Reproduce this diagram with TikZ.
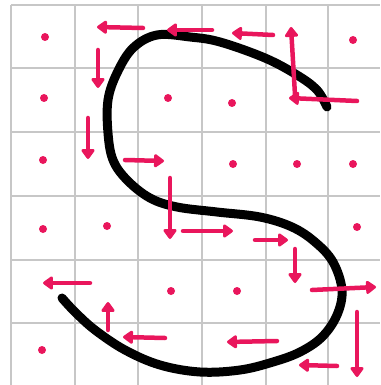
\documentclass[tikz,border=0pt]{standalone}
\usepackage{tikz}
\usetikzlibrary{arrows.meta}
\definecolor{penPink}{RGB}{233,22,92}
\tikzset{
	gridline/.style={draw=black!22, line width=1.3pt},
	griddot/.style={circle, fill=penPink, inner sep=0pt, minimum size=8pt},
	movearr/.style={-{Triangle[length=11pt, width=15pt, round]}, line width=4.5pt, draw=penPink, line cap=round},
	letterS/.style={draw=black, line width=9pt, line cap=round, line join=round}
}

\begin{document}
\begin{tikzpicture}[x=1pt, y=-1pt]
	\useasboundingbox (0,0) rectangle (380,385);
	\foreach \gx in {11,75,138,202,266,328}
		\draw[gridline] (\gx,5) -- (\gx,385);
	\foreach \gy in {5,68,132,196,260,323}
		\draw[gridline] (11,\gy) -- (380,\gy);
	\foreach \dx/\dy [count=\i] in {45/37, 353/40, 44/98, 168/98, 232/103, 43/160, 233/164, 297/164, 353/164, 43/229, 107/226, 357/227, 171/291, 237/291, 42/350}
		\node[griddot] (dot\i) at (\dx,\dy) {};
	\draw[letterS] plot[smooth, tension=0.6] coordinates {(327,107) (317,90) (297,75) (265,58) (220,42) (190,37) (157,35) (133,48) (117,73) (108,100) (108,133) (113,160) (127,180) (150,198) (177,207) (217,212) (260,217) (292,227) (315,242) (333,262) (342,290) (337,315) (322,337) (300,352) (273,362) (240,370) (200,372) (160,365) (125,350) (95,330) (75,312) (62,298)};
	\foreach \ax/\ay/\bx/\by in {143/28/97/27, 98/50/98/88, 212/30/167/30, 273/35/232/33, 295/95/291/27, 357/101/289/98, 88/118/88/159, 125/160/164/161, 170/178/170/239, 183/231/233/231, 255/240/288/240, 295/249/295/283, 312/290/376/287, 357/312/357/377, 337/366/299/365, 277/341/227/342, 165/338/123/337, 108/330/108/302, 90/283/43/283}
		\draw[movearr] (\ax,\ay) -- (\bx,\by);
\end{tikzpicture}
\end{document}
